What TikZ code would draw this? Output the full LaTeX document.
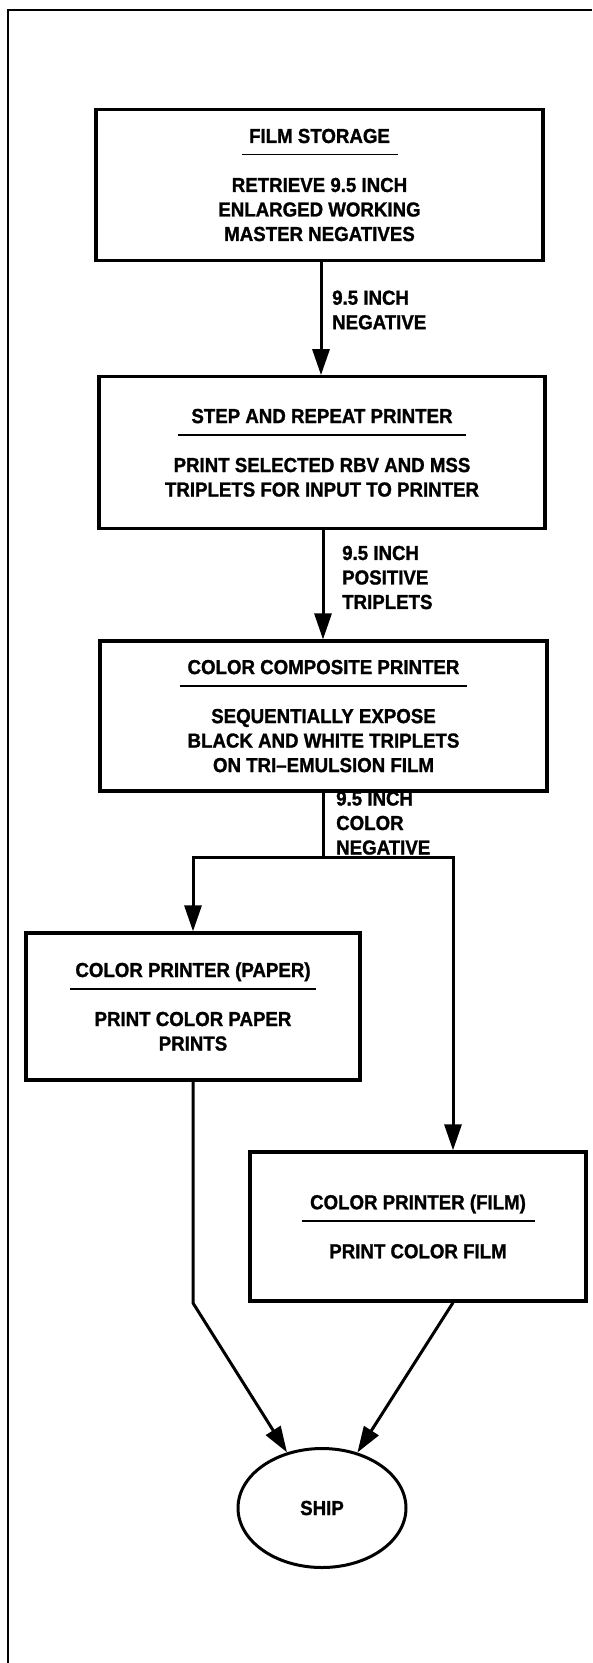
\documentclass[tikz,border=0pt]{standalone}
\usepackage{fontspec}
\setmainfont{Liberation Sans}[FakeStretch=0.92, BoldFeatures={FakeBold=1.2}]
\usepackage{tikz}
\usetikzlibrary{arrows.meta,positioning,calc,shapes.geometric}

\newcommand{\proctext}[3]{#1\\[-12pt]\rule{#2}{1.5pt}\\[12pt]#3}

\begin{document}
\begin{tikzpicture}[x=1pt, y=-1pt, >={Triangle[length=26pt,width=17pt]},
  every node/.style={font=\bfseries\fontsize{20.3}{24.5}\selectfont},
  proc/.style={draw, line width=3.3pt, align=center, inner sep=0pt},
  note/.style={anchor=west, align=left, inner sep=0pt},
  term/.style={draw, ellipse, line width=3pt, minimum width=168pt, minimum height=119pt, inner sep=0pt},
  flow/.style={line width=3pt, line join=miter}]
  \useasboundingbox (0,0) rectangle (592,1663);
  % page frame
  \draw[line width=2.4pt] (8,1663) -- (8,10) -- (592,10);
  \node[proc, minimum width=447pt, minimum height=151pt] at (319.5,185) (fs)
      {\proctext{FILM STORAGE}{156pt}{RETRIEVE 9.5 INCH\\ENLARGED WORKING\\MASTER NEGATIVES}};
  \node[proc, minimum width=446pt, minimum height=152pt, below=113pt of fs, xshift=2.5pt] (sr)
      {\proctext{STEP AND REPEAT PRINTER}{288pt}{PRINT SELECTED RBV AND MSS\\TRIPLETS FOR INPUT TO PRINTER}};
  \node[proc, minimum width=447pt, minimum height=150pt, below=109pt of sr, xshift=1.5pt] (cc)
      {\proctext{COLOR COMPOSITE PRINTER}{287pt}{SEQUENTIALLY EXPOSE\\BLACK AND WHITE TRIPLETS\\ON TRI--EMULSION FILM}};
  \node[proc, minimum width=334pt, minimum height=147pt] at (193,1006.5) (pp)
      {\proctext{COLOR PRINTER (PAPER)}{246pt}{PRINT COLOR PAPER\\PRINTS}};
  \node[proc, minimum width=336pt, minimum height=149pt] at (418,1226.5) (pf)
      {\proctext{COLOR PRINTER (FILM)}{233pt}{PRINT COLOR FILM}};
  \node[term] at (322,1508) (ship){SHIP};
  \coordinate (lbr) at (193,857);
  \coordinate (rbr) at (453,857);
  \coordinate (lbend) at (193,1303);
  \draw[flow,->] (fs.south -| 321,0) -- (sr.north -| 321,0);
  \draw[flow,->] (sr.south -| 323,0) -- (cc.north -| 323,0);
  \draw[flow] (cc.south) -- (cc.south |- lbr);
  \draw[flow,->] (cc.south |- lbr) -| (pp.north);
  \draw[flow,->] (cc.south |- lbr) -| (rbr |- pf.north);
  \draw[flow,->] (pp.south) -- (lbend) -- (ship);
  \draw[flow,->] (rbr |- pf.south) -- (ship);
  \node[note] at (332,310) (n1){9.5 INCH\\NEGATIVE};
  \node[note] at (342,577.5) (n2){9.5 INCH\\POSITIVE\\TRIPLETS};
  \node[note] at (336,823) (n3){9.5 INCH\\COLOR\\NEGATIVE};
\end{tikzpicture}
\end{document}
